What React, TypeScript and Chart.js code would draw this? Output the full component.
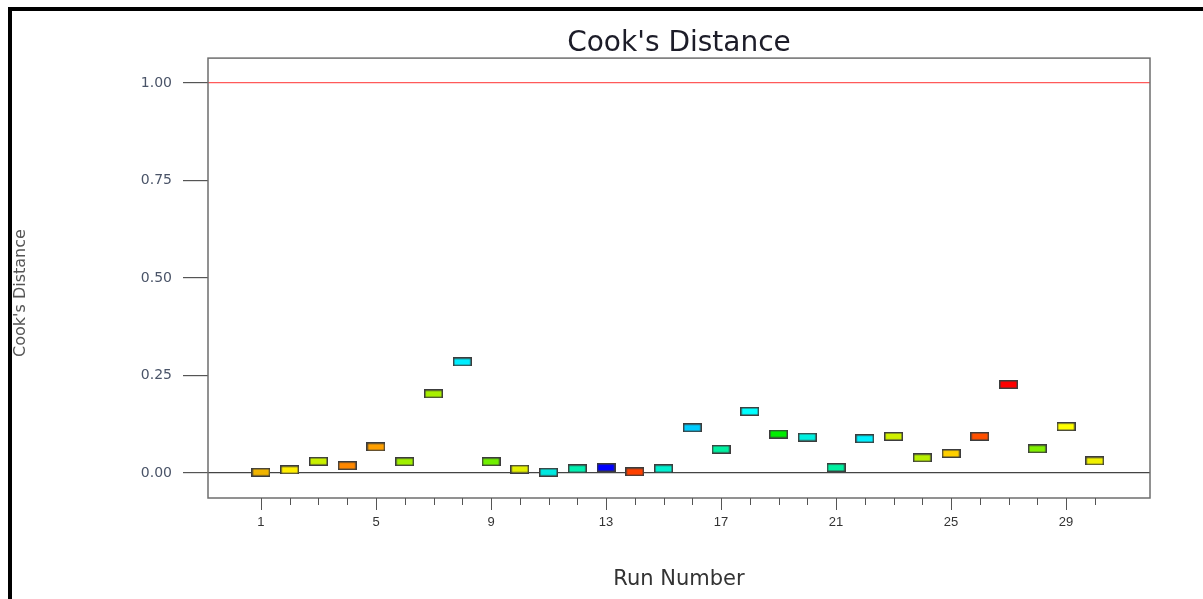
import React, { useEffect, useRef } from "react";
import { Chart, registerables } from "chart.js";

Chart.register(...registerables);

const runNumbers = [1, 2, 3, 4, 5, 6, 7, 8, 9, 10, 11, 12, 13, 14, 15, 16, 17, 18, 19, 20, 21, 22, 23, 24, 25, 26, 27, 28, 29, 30];
const cooksDistance = [0.002, 0.008, 0.03, 0.019, 0.067, 0.029, 0.203, 0.285, 0.029, 0.01, 0.002, 0.011, 0.014, 0.003, 0.011, 0.116, 0.061, 0.158, 0.1, 0.092, 0.014, 0.088, 0.094, 0.039, 0.05, 0.094, 0.227, 0.062, 0.119, 0.031];
const pointColors = ["#f0b400", "#ffee00", "#c8f000", "#ff8800", "#ffa000", "#a0f000", "#a8f000", "#00eeff", "#70f000", "#e4f000", "#00e8e0", "#00f0b0", "#0000ff", "#ff4000", "#00f0d0", "#00ccff", "#00f0a0", "#00ffff", "#00ee00", "#00f0e0", "#00f0a0", "#00f0ff", "#d0f000", "#b8f000", "#ffd000", "#ff5000", "#ff0000", "#80f000", "#ffff00", "#f0f000"];
const yTickValues = [0, 0.25, 0.5, 0.75, 1.0];
const xLabeledTicks = [1, 5, 9, 13, 17, 21, 25, 29];
const limitValue = 1.0;
const chartTitle = "Cook's Distance";
const yAxisTitle = "Cook's Distance";
const xAxisTitle = "Run Number";

const WIDE = "'DejaVu Sans', Verdana, sans-serif";
const ARIAL = "'Liberation Sans', Arial, sans-serif";

function makeBox(color: string): HTMLCanvasElement {
  const c = document.createElement("canvas");
  c.width = 19;
  c.height = 9;
  const g = c.getContext("2d")!;
  g.fillStyle = "#3c3c3c";
  g.fillRect(0, 0, 19, 9);
  g.fillStyle = color;
  g.fillRect(1.5, 1.5, 16, 6);
  return c;
}

export default function App() {
  const ref = useRef<HTMLCanvasElement>(null);
  useEffect(() => {
    const canvas = ref.current!;
    const boxes = pointColors.map(makeBox);

    const framePlugin = {
      id: "frame",
      afterDraw(chart: any) {
        const { ctx, chartArea } = chart;
        const xs = chart.scales.x;
        ctx.save();
        ctx.strokeStyle = "#6e6e6e";
        ctx.lineWidth = 1.5;
        ctx.strokeRect(chartArea.left, chartArea.top, chartArea.right - chartArea.left, chartArea.bottom - chartArea.top);
        ctx.strokeStyle = "#555";
        ctx.lineWidth = 1;
        runNumbers.forEach((r) => {
          const px = Math.round(xs.getPixelForValue(r)) + 0.5;
          const len = xLabeledTicks.includes(r) ? 12 : 7;
          ctx.beginPath();
          ctx.moveTo(px, chartArea.bottom);
          ctx.lineTo(px, chartArea.bottom + len);
          ctx.stroke();
        });
        // y-axis title
        ctx.translate(9, 282);
        ctx.rotate(-Math.PI / 2);
        ctx.fillStyle = "#555";
        ctx.font = "16px " + WIDE;
        ctx.textAlign = "center";
        ctx.textBaseline = "middle";
        ctx.fillText(yAxisTitle, 0, 0);
        ctx.restore();
      },
    };

    const chart = new Chart(canvas, {
      type: "scatter",
      data: {
        datasets: [
          {
            data: runNumbers.map((r, i) => ({ x: r, y: cooksDistance[i] })),
            pointStyle: boxes as any,
            pointRadius: 5,
            pointHoverRadius: 5,
          },
        ],
      },
      options: {
        animation: false,
        responsive: false,
        maintainAspectRatio: false,
        layout: { padding: { left: 0, right: 53, top: 0, bottom: 0 } },
        plugins: {
          legend: { display: false },
          tooltip: { enabled: false },
          title: {
            display: true,
            fullSize: false,
            text: chartTitle,
            color: "#1c1c28",
            font: { family: WIDE, size: 28, weight: "normal" },
            padding: { top: 15.5, bottom: -2 },
          },
        },
        scales: {
          x: {
            type: "linear",
            min: -0.843,
            max: 31.92,
            afterBuildTicks: (s: any) => {
              s.ticks = runNumbers.map((v) => ({ value: v }));
            },
            afterFit: (s: any) => {
              s.height = 101;
            },
            ticks: {
              autoSkip: false,
              maxRotation: 0,
              padding: 5,
              color: "#333",
              font: { family: ARIAL, size: 13 },
              callback: (v: any) => (xLabeledTicks.includes(Number(v)) ? String(v) : ""),
            },
            grid: { drawOnChartArea: false, drawTicks: true, tickLength: 12, tickColor: "rgba(0,0,0,0)" },
            border: { display: false },
            title: {
              display: true,
              text: xAxisTitle,
              color: "#333",
              font: { family: WIDE, size: 21 },
              padding: { top: 0, bottom: 6.4 },
            },
          },
          y: {
            type: "linear",
            min: -0.064,
            max: 1.064,
            afterBuildTicks: (s: any) => {
              s.ticks = yTickValues.map((v) => ({ value: v }));
            },
            afterFit: (s: any) => {
              s.width = 196;
            },
            ticks: {
              padding: 11,
              color: "#4a5468",
              font: { family: WIDE, size: 14 },
              callback: (v: any) => Number(v).toFixed(2),
            },
            grid: {
              drawTicks: true,
              tickLength: 25,
              tickColor: "#555",
              lineWidth: 1.2,
              color: (c: any) => {
                const v = c.tick ? c.tick.value : null;
                if (v === 0) return "#444";
                if (v === limitValue) return "#ff5a5a";
                return "rgba(0,0,0,0)";
              },
            },
            border: { display: false },
            title: { display: false },
          },
        },
      },
      plugins: [framePlugin],
    });
    return () => chart.destroy();
  }, []);

  return (
    <div
      style={{
        position: "fixed",
        left: 8,
        top: 7,
        right: -20,
        bottom: -20,
        borderTop: "4px solid #000",
        borderLeft: "4px solid #000",
        background: "#fff",
      }}
    >
      <canvas ref={ref} width={1191} height={588} style={{ display: "block", width: 1191, height: 588 }} />
    </div>
  );
}
